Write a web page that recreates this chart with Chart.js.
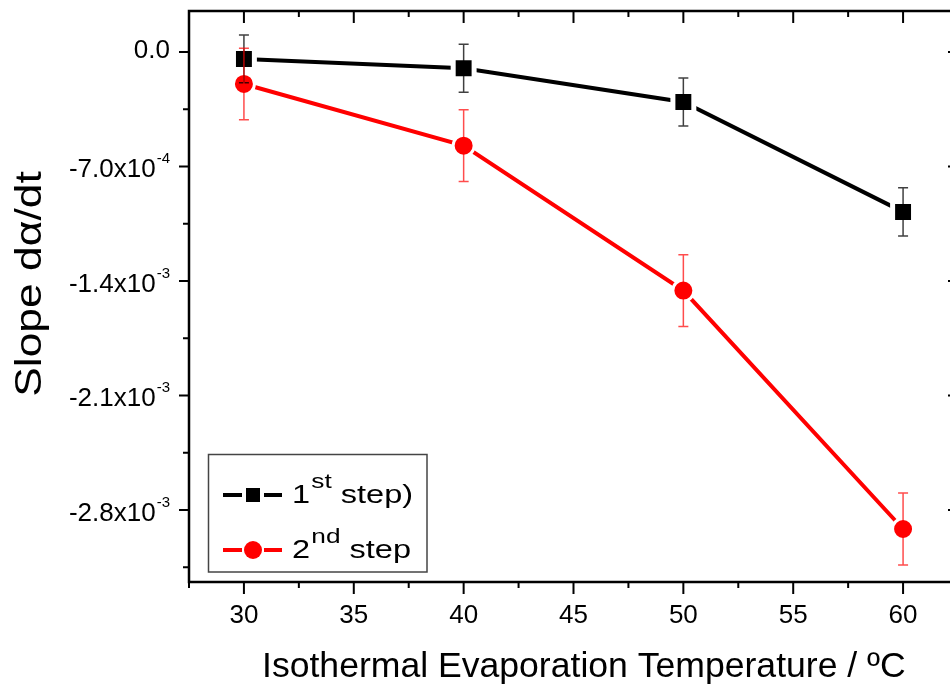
<!DOCTYPE html>
<html>
<head>
<meta charset="utf-8">
<script src="https://cdn.jsdelivr.net/npm/chart.js@4.4.0/dist/chart.umd.min.js"></script>
<style>
    html, body { margin: 0; padding: 0; background: #fff; overflow: hidden; }
</style>
</head>
<body>
<canvas id="slope-chart" width="970" height="687"></canvas>
<script>
// data
const temps = [30, 40, 50, 60];
const step1Slope = [-4.3e-5, -1.0e-4, -3.06e-4, -9.78e-4];
const step1Err = [1.46e-4, 1.47e-4, 1.47e-4, 1.47e-4];
const step2Slope = [-1.96e-4, -5.73e-4, -1.459e-3, -2.916e-3];
const step2Err = [2.19e-4, 2.19e-4, 2.19e-4, 2.2e-4];

// axes
const xTicks = [30, 35, 40, 45, 50, 55, 60];
const xMinorTicks = [27.5, 32.5, 37.5, 42.5, 47.5, 52.5, 57.5, 62.5];
const yTicks = [0, -7e-4, -1.4e-3, -2.1e-3, -2.8e-3];
const yTickLabels = ['0.0', '-7.0x10^-4', '-1.4x10^-3', '-2.1x10^-3', '-2.8x10^-3'];
const yMinorTicks = [-3.5e-4, -1.05e-3, -1.75e-3, -2.45e-3, -3.15e-3];

const xTitle = 'Isothermal Evaporation Temperature / ºC';
const yTitle = 'Slope dα/dt';
// [base, superscript, rest]
const seriesNames = [['1', 'st', ' step)'], ['2', 'nd', ' step']];

const FONT = '"Liberation Sans", Arial, sans-serif';

// base text + raised small text + rest, optionally stretched in x
const drawSupText = (ctx, x, y, parts, size, supSize, rise, sx) => {
    ctx.save();
    ctx.translate(x, y);
    ctx.scale(sx, 1);
    ctx.textAlign = 'left';
    ctx.textBaseline = 'alphabetic';
    let cx = 0;
    ctx.font = size + 'px ' + FONT;
    ctx.fillText(parts[0], cx, 0);
    cx += ctx.measureText(parts[0]).width + 1;
    ctx.font = supSize + 'px ' + FONT;
    ctx.fillText(parts[1], cx, -rise);
    cx += ctx.measureText(parts[1]).width;
    if (parts[2]) {
        ctx.font = size + 'px ' + FONT;
        ctx.fillText(parts[2], cx, 0);
    }
    ctx.restore();
};

// error bars on top of the markers
const errorBars = {
    id: 'errorBars',
    afterDatasetsDraw(chart) {
        const ctx = chart.ctx;
        const xs = chart.scales.x, ys = chart.scales.y;
        const sets = [
            { vals: step1Slope, errs: step1Err, color: 'rgba(0,0,0,0.75)' },
            { vals: step2Slope, errs: step2Err, color: 'rgba(255,0,0,0.7)' }
        ];
        ctx.save();
        ctx.lineWidth = 1.5;
        sets.forEach(s => {
            ctx.strokeStyle = s.color;
            temps.forEach((t, i) => {
                const x = xs.getPixelForValue(t);
                const y1 = ys.getPixelForValue(s.vals[i] + s.errs[i]);
                const y2 = ys.getPixelForValue(s.vals[i] - s.errs[i]);
                ctx.beginPath();
                ctx.moveTo(x, y1); ctx.lineTo(x, y2);
                ctx.moveTo(x - 5, y1); ctx.lineTo(x + 5, y1);
                ctx.moveTo(x - 5, y2); ctx.lineTo(x + 5, y2);
                ctx.stroke();
            });
        });
        ctx.restore();
    }
};

// frame, tick marks, y labels, titles and legend
const frameAndText = {
    id: 'frameAndText',
    afterDraw(chart) {
        const ctx = chart.ctx;
        const ca = chart.chartArea;
        const xs = chart.scales.x, ys = chart.scales.y;
        ctx.save();
        ctx.fillStyle = '#000';
        ctx.strokeStyle = '#000';

        // frame
        ctx.lineWidth = 2.5;
        ctx.strokeRect(ca.left, ca.top, ca.right - ca.left, ca.bottom - ca.top);

        // tick marks
        ctx.lineWidth = 2;
        ctx.beginPath();
        const xTick = (v, len) => {
            const x = xs.getPixelForValue(v);
            ctx.moveTo(x, ca.bottom); ctx.lineTo(x, ca.bottom + len);
            ctx.moveTo(x, ca.top); ctx.lineTo(x, ca.top + len);
        };
        const yTick = (v, len) => {
            const y = ys.getPixelForValue(v);
            ctx.moveTo(ca.left, y); ctx.lineTo(ca.left - len, y);
            ctx.moveTo(ca.right, y); ctx.lineTo(ca.right - len, y);
        };
        xTicks.forEach(v => xTick(v, 12));
        xMinorTicks.forEach(v => xTick(v, 6));
        yTicks.forEach(v => yTick(v, 10));
        yMinorTicks.forEach(v => yTick(v, 6));
        ctx.stroke();

        // y tick labels with exponents
        yTicks.forEach((v, i) => {
            const y = ys.getPixelForValue(v);
            const [base, exp] = yTickLabels[i].split('^');
            ctx.font = '26px ' + FONT;
            const wb = ctx.measureText(base).width;
            ctx.font = '15px ' + FONT;
            const we = exp ? ctx.measureText(exp).width + 1 : 0;
            const x0 = 170 - wb - we;
            if (exp) {
                drawSupText(ctx, x0, y + 11, [base, exp], 26, 15, 14, 1);
            } else {
                ctx.font = '26px ' + FONT;
                ctx.textAlign = 'left';
                ctx.textBaseline = 'alphabetic';
                ctx.fillText(base, x0, y + 6);
            }
        });

        // y title (stretched along the text)
        ctx.save();
        ctx.translate(41, 284);
        ctx.rotate(-Math.PI / 2);
        ctx.scale(1.2, 1);
        ctx.font = '37px ' + FONT;
        ctx.textAlign = 'center';
        ctx.textBaseline = 'alphabetic';
        ctx.fillText(yTitle, 0, 0);
        ctx.restore();

        // x title
        ctx.font = '35.6px ' + FONT;
        ctx.textAlign = 'left';
        ctx.textBaseline = 'alphabetic';
        ctx.fillText(xTitle, 262, 677);

        // legend
        ctx.lineWidth = 1.5;
        ctx.strokeStyle = '#444';
        ctx.strokeRect(208.5, 454.5, 218.5, 117.5);
        const rows = [
            { y: 495, color: '#000', shape: 'rect' },
            { y: 550, color: '#ff0000', shape: 'circle' }
        ];
        rows.forEach((r, i) => {
            ctx.strokeStyle = r.color;
            ctx.fillStyle = r.color;
            ctx.lineWidth = 4;
            ctx.beginPath();
            ctx.moveTo(223, r.y); ctx.lineTo(242, r.y);
            ctx.moveTo(264, r.y); ctx.lineTo(282, r.y);
            ctx.stroke();
            ctx.beginPath();
            if (r.shape === 'rect') {
                ctx.rect(246, r.y - 7, 14, 14);
            } else {
                ctx.arc(253, r.y, 9, 0, Math.PI * 2);
            }
            ctx.fill();
            ctx.fillStyle = '#000';
            drawSupText(ctx, 292, r.y + 8, seriesNames[i], 26, 21, 15, 1.25);
        });
        ctx.restore();
    }
};

const ctx = document.getElementById('slope-chart').getContext('2d');

window.slopeChart = new Chart(ctx, {
    type: 'line',
    data: {
        datasets: [{
            label: '1st step)',
            data: temps.map((t, i) => ({ x: t, y: step1Slope[i] })),
            borderColor: '#000',
            borderWidth: 4,
            pointStyle: 'rect',
            pointRadius: 14.8,
            pointBackgroundColor: '#000',
            pointBorderColor: '#fff',
            pointBorderWidth: 5,
            tension: 0
        }, {
            label: '2nd step',
            data: temps.map((t, i) => ({ x: t, y: step2Slope[i] })),
            borderColor: '#ff0000',
            borderWidth: 4,
            pointStyle: 'circle',
            pointRadius: 10.5,
            pointBackgroundColor: '#ff0000',
            pointBorderColor: '#fff',
            pointBorderWidth: 3,
            tension: 0
        }]
    },
    options: {
        responsive: false,
        animation: false,
        events: [],
        layout: { autoPadding: false, padding: { top: 11, right: 12, left: 0, bottom: 0 } },
        plugins: {
            legend: { display: false },
            tooltip: { enabled: false }
        },
        scales: {
            x: {
                type: 'linear',
                min: 27.5,
                max: 62.5,
                afterBuildTicks: (axis) => { axis.ticks = xTicks.map(v => ({ value: v })); },
                afterFit: (axis) => { axis.height = 105; },
                grid: { display: false, drawTicks: false },
                border: { display: false },
                ticks: {
                    color: '#000',
                    font: { family: FONT, size: 26 },
                    padding: 18,
                    maxRotation: 0,
                    autoSkip: false
                }
            },
            y: {
                type: 'linear',
                min: -3.24e-3,
                max: 2.5e-4,
                afterFit: (axis) => { axis.width = 189; },
                grid: { display: false, drawTicks: false },
                border: { display: false },
                ticks: { display: false }
            }
        }
    },
    plugins: [errorBars, frameAndText]
});
</script>
</body>
</html>
